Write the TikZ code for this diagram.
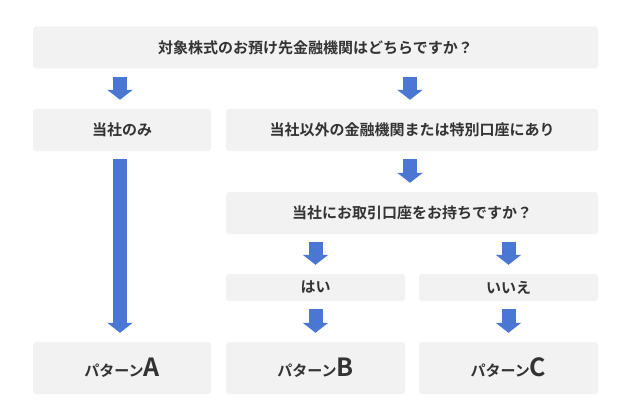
\documentclass[tikz,border=0pt]{standalone}
\usepackage{fontspec}
\setmainfont{Noto Sans CJK JP}[BoldFont={* Bold}]
\usetikzlibrary{arrows.meta}
\definecolor{boxg}{HTML}{F2F2F2}
\definecolor{arrb}{HTML}{4A76D4}
\definecolor{txt}{HTML}{333333}
\newcommand{\patlet}[1]{{\fontsize{25}{27}\selectfont #1}}
\tikzset{
  gbox/.style={fill=boxg,rounded corners=3pt,inner sep=0pt,font=\bfseries\fontsize{15}{17}\selectfont,text=txt},
  barrow/.style={draw=arrb,line width=14pt,-{Triangle[width=25pt,length=10pt]},shorten <=8pt,shorten >=9pt}
}
\begin{document}
\begin{tikzpicture}[x=1pt,y=-1pt]
\useasboundingbox (0,0) rectangle (630,420);
\node[gbox,minimum width=565pt,minimum height=42pt] (q1) at (315.5,47.5) {対象株式のお預け先金融機関はどちらですか？};
\node[gbox,minimum width=178pt,minimum height=42pt] (own) at (122,130) {当社のみ};
\node[gbox,minimum width=372pt,minimum height=42pt] (other) at (412,130) {当社以外の金融機関または特別口座にあり};
\node[gbox,minimum width=372pt,minimum height=42pt] (q2) at (412,213) {当社にお取引口座をお持ちですか？};
\node[gbox,minimum width=179pt,minimum height=27pt] (yes) at (315.5,287.5) {はい};
\node[gbox,minimum width=179pt,minimum height=27pt] (no) at (508.5,287.5) {いいえ};
\node[gbox,minimum width=178pt,minimum height=52pt] (pa) at (122,368) {パターン\patlet{A}};
\node[gbox,minimum width=179pt,minimum height=52pt] (pb) at (315.5,368) {パターン\patlet{B}};
\node[gbox,minimum width=179pt,minimum height=52pt] (pc) at (508.5,368) {パターン\patlet{C}};
\draw[barrow] (q1.south -| 120,0) -- (own.north -| 120,0);
\draw[barrow] (q1.south -| 410,0) -- (other.north -| 410,0);
\draw[barrow] (own.south -| 120,0) -- (pa.north -| 120,0);
\draw[barrow] (other.south -| 410,0) -- (q2.north -| 410,0);
\draw[barrow] (q2.south -| yes.north) -- (yes.north);
\draw[barrow] (q2.south -| no.north) -- (no.north);
\draw[barrow] (yes.south) -- (pb.north);
\draw[barrow] (no.south) -- (pc.north);
\end{tikzpicture}
\end{document}
